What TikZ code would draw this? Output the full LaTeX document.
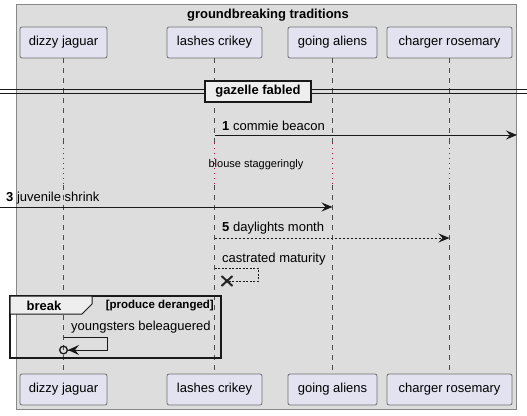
\documentclass[tikz,border=0pt]{standalone}
\usepackage{fontspec}
\setmainfont{Liberation Sans}
\usetikzlibrary{arrows.meta}
\definecolor{framefill}{HTML}{DDDDDD}
\definecolor{frameline}{HTML}{888888}
\definecolor{partfill}{HTML}{E2E2F0}
\definecolor{partline}{HTML}{707070}
\definecolor{tabfill}{HTML}{EEEEEE}
\definecolor{delaycol}{HTML}{B0103A}
\begin{document}
\begin{tikzpicture}[x=1pt,y=-1pt,
  txt/.style={font=\fontsize{13}{15}\selectfont, inner sep=0pt},
  part/.style={draw=partline, fill=partfill, rounded corners=2pt, minimum height=31pt, inner sep=0pt, line width=0.8pt, font=\fontsize{13}{15}\selectfont},
  life/.style={draw=black!70, line width=0.7pt, dash pattern=on 5pt off 5pt},
  delayline/.style={draw=delaycol, line width=1pt, dash pattern=on 1pt off 4pt},
  msg/.style={draw=black!90, line width=1pt, -{Stealth[length=11pt,width=9pt,inset=4pt]}},
  dmsg/.style={msg, dash pattern=on 2pt off 2pt},
  retline/.style={draw=black!90, line width=0.8pt, dash pattern=on 2pt off 1.5pt},
]
\useasboundingbox (0,0) rectangle (527,415);
\draw[fill=framefill, draw=frameline, line width=1pt] (16,4) rectangle (516,409);
\node[txt, font=\fontsize{13}{15}\selectfont\bfseries] (title) at (268,15) {groundbreaking traditions};

% participants
\node[part, minimum width=87pt]  (pa) at (63.5,42.5) {dizzy jaguar};
\node[part, minimum width=95pt]  (pb) at (214.5,42.5) {lashes crikey};
\node[part, minimum width=89pt]  (pc) at (332.5,42.5) {going aliens};
\node[part, minimum width=125pt] (pd) at (449.5,42.5) {charger rosemary};
\node[part, minimum width=87pt]  (qa) at (63.5,389.5) {dizzy jaguar};
\node[part, minimum width=95pt]  (qb) at (214.5,389.5) {lashes crikey};
\node[part, minimum width=89pt]  (qc) at (332.5,389.5) {going aliens};
\node[part, minimum width=125pt] (qd) at (449.5,389.5) {charger rosemary};

% lifelines with delay section
\foreach \n/\x in {a/63.5,b/214.5,c/332.5,d/449.5} {
  \coordinate (da\n) at (\x,143);
  \coordinate (db\n) at (\x,185);
  \draw[life] (p\n) -- (da\n);
  \draw[delayline] (da\n) -- (db\n);
  \draw[life] (db\n) -- (q\n);
}

% divider
\coordinate (dvl) at (0,89);
\coordinate (dvr) at (527,89);
\coordinate (dvl2) at (0,93);
\coordinate (dvr2) at (527,93);
\draw[line width=1pt, black!90] (dvl) -- (dvr);
\draw[line width=1pt, black!90] (dvl2) -- (dvr2);
\node[draw=black!90, line width=2pt, fill=tabfill, minimum width=106pt, minimum height=21pt, inner sep=0pt, font=\fontsize{13}{15}\selectfont\bfseries] (div) at (258,91.5) {gazelle fabled};

% message 1
\coordinate (m1s) at (214.5,135);
\coordinate (m1e) at (517,135);
\draw[msg] (m1s) -- (m1e);
\node[txt, anchor=west] (l1) at (222,126) {\textbf{1} commie beacon};

% delay text
\node[txt, font=\fontsize{11}{13}\selectfont] (dl) at (256,165) {blouse staggeringly};

% message 3
\coordinate (m3s) at (0,207);
\coordinate (m3e) at (332.5,207);
\draw[msg] (m3s) -- (m3e);
\node[txt, anchor=west] (l3) at (6,198) {\textbf{3} juvenile shrink};

% message 5
\coordinate (m5s) at (214.5,238);
\coordinate (m5e) at (449.5,238);
\draw[dmsg] (m5s) -- (m5e);
\node[txt, anchor=west] (l5) at (222,228) {\textbf{5} daylights month};

% castrated maturity (self, destroyed)
\coordinate (c1) at (214.5,268);
\coordinate (c2) at (258,268);
\coordinate (c3) at (258,281);
\coordinate (cx) at (227,281);
\draw[retline] (c1) -- (c2) -- (c3) -- (cx);
\draw[line width=2pt, black!85] ([shift={(-5.5,-5)}]cx) -- ([shift={(5.5,5)}]cx);
\draw[line width=2pt, black!85] ([shift={(-5.5,5)}]cx) -- ([shift={(5.5,-5)}]cx);
\node[txt, anchor=west] (lc) at (222,259) {castrated maturity};

% break group
\draw[line width=1.6pt, black!90] (10,296) rectangle (221,358);
\draw[line width=1pt, black!90, fill=tabfill] (10,296) -- (92,296) -- (92,304) -- (82,314) -- (10,314) -- cycle;
\node[txt, font=\fontsize{13}{15}\selectfont\bfseries] (brk) at (44,306) {break};
\node[txt, anchor=east, font=\fontsize{11.5}{13}\selectfont\bfseries] (cond) at (214,306) {[produce deranged]};

% youngsters beleaguered
\coordinate (y1) at (63.5,337);
\coordinate (y2) at (107,337);
\coordinate (y3) at (107,350);
\coordinate (y4) at (59,350);
\draw[line width=1pt, black!90, -{Stealth[length=11pt,width=10pt,inset=4pt,sep=0pt] Circle[open,length=9pt,width=9pt,line width=1.3pt]}] (y1) -- (y2) -- (y3) -- (y4);
\node[txt, anchor=west] (ly) at (71,327) {youngsters beleaguered};
\end{tikzpicture}
\end{document}
